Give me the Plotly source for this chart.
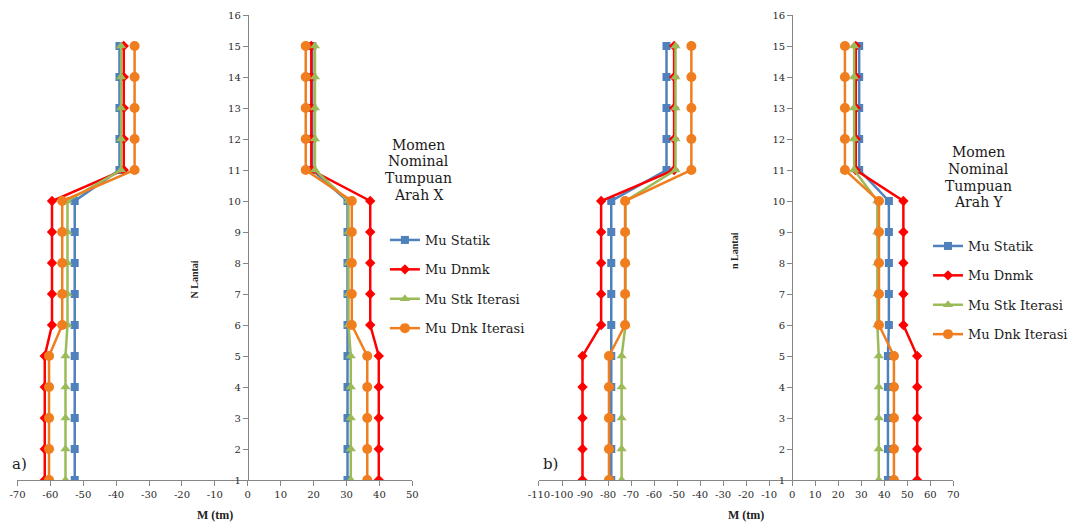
import plotly.graph_objects as go

W, H = 1073, 526

floors = [1, 2, 3, 4, 5, 6, 7, 8, 9, 10, 11, 12, 13, 14, 15]
series_names = ["Mu Statik", "Mu Dnmk", "Mu Stk Iterasi", "Mu Dnk Iterasi"]

# ---- Chart a) Arah X (negative side / positive side), floors 1..15
a_statik_neg = [-52.6, -52.6, -52.6, -52.6, -52.6, -52.6, -52.6, -52.6, -52.6, -52.6, -39.0, -39.0, -39.0, -39.0, -39.0]
a_dnmk_neg   = [-61.7, -61.7, -61.7, -61.7, -61.7, -59.5, -59.5, -59.5, -59.5, -59.5, -37.7, -37.7, -37.7, -37.7, -37.7]
a_stk_neg    = [-55.4, -55.4, -55.4, -55.4, -55.4, -54.8, -54.8, -54.8, -54.8, -54.8, -38.5, -38.5, -38.5, -38.5, -38.5]
a_dnk_neg    = [-60.4, -60.4, -60.4, -60.4, -60.4, -56.4, -56.4, -56.4, -56.4, -56.4, -34.4, -34.4, -34.4, -34.4, -34.4]
a_statik_pos = [30.3, 30.3, 30.3, 30.3, 30.3, 30.3, 30.3, 30.3, 30.3, 30.3, 19.6, 19.6, 19.6, 19.6, 19.6]
a_dnmk_pos   = [39.8, 39.8, 39.8, 39.8, 39.8, 37.2, 37.2, 37.2, 37.2, 37.2, 19.3, 19.3, 19.3, 19.3, 19.3]
a_stk_pos    = [31.3, 31.3, 31.3, 31.3, 31.3, 30.6, 30.6, 30.6, 30.6, 30.6, 20.4, 20.4, 20.4, 20.4, 20.4]
a_dnk_pos    = [36.3, 36.3, 36.3, 36.3, 36.3, 31.6, 31.6, 31.6, 31.6, 31.6, 17.6, 17.6, 17.6, 17.6, 17.6]

# ---- Chart b) Arah Y
b_statik_neg = [-78.6, -78.6, -78.6, -78.6, -78.6, -78.6, -78.6, -78.6, -78.6, -78.6, -54.6, -54.6, -54.6, -54.6, -54.6]
b_dnmk_neg   = [-91.1, -91.1, -91.1, -91.1, -91.1, -83.0, -83.0, -83.0, -83.0, -83.0, -51.3, -51.3, -51.3, -51.3, -51.3]
b_stk_neg    = [-74.1, -74.1, -74.1, -74.1, -74.1, -72.4, -72.4, -72.4, -72.4, -72.4, -50.7, -50.7, -50.7, -50.7, -50.7]
b_dnk_neg    = [-79.6, -79.6, -79.6, -79.6, -79.6, -72.6, -72.6, -72.6, -72.6, -72.6, -43.8, -43.8, -43.8, -43.8, -43.8]
b_statik_pos = [41.6, 41.6, 41.6, 41.6, 41.6, 42.0, 42.0, 42.0, 42.0, 42.0, 29.1, 29.1, 29.1, 29.1, 29.1]
b_dnmk_pos   = [54.3, 54.3, 54.3, 54.3, 54.3, 48.3, 48.3, 48.3, 48.3, 48.3, 27.6, 27.6, 27.6, 27.6, 27.6]
b_stk_pos    = [37.6, 37.6, 37.6, 37.6, 37.6, 37.0, 37.0, 37.0, 37.0, 37.0, 26.9, 26.9, 26.9, 26.9, 26.9]
b_dnk_pos    = [44.2, 44.2, 44.2, 44.2, 44.2, 37.7, 37.7, 37.7, 37.7, 37.7, 22.9, 22.9, 22.9, 22.9, 22.9]

a_neg = [a_statik_neg, a_dnmk_neg, a_stk_neg, a_dnk_neg]
a_pos = [a_statik_pos, a_dnmk_pos, a_stk_pos, a_dnk_pos]
b_neg = [b_statik_neg, b_dnmk_neg, b_stk_neg, b_dnk_neg]
b_pos = [b_statik_pos, b_dnmk_pos, b_stk_pos, b_dnk_pos]

a_xticks = [-70, -60, -50, -40, -30, -20, -10, 0, 10, 20, 30, 40, 50]
b_xticks = [-110, -100, -90, -80, -70, -60, -50, -40, -30, -20, -10, 0, 10, 20, 30, 40, 50, 60, 70]
yticks = [1, 2, 3, 4, 5, 6, 7, 8, 9, 10, 11, 12, 13, 14, 15, 16]

colors = ["#4F81BD", "#FF0000", "#9BBB59", "#F07E1E"]
symbols = ["square", "diamond", "triangle-up", "circle"]
msizes = [8, 8, 9, 10]


def px(x):
    return x / W


def py(y):
    return 1 - y / H


# plot areas (pixels)
A_L, A_R = 17.5, 413.5
B_L, B_R = 540.5, 956.0
Y_TOP, Y_BOT = 15.0, 480.0

fig = go.Figure()

for i in range(4):
    fig.add_trace(go.Scatter(
        x=a_neg[i] + [None] + a_pos[i], y=floors + [None] + floors,
        mode="lines+markers", name=series_names[i],
        line=dict(color=colors[i], width=2.5),
        marker=dict(symbol=symbols[i], size=msizes[i], color=colors[i]),
        xaxis="x", yaxis="y", legend="legend", legendgroup="a%d" % i,
        connectgaps=False,
    ))
for i in range(4):
    fig.add_trace(go.Scatter(
        x=b_neg[i] + [None] + b_pos[i], y=floors + [None] + floors,
        mode="lines+markers", name=series_names[i],
        line=dict(color=colors[i], width=2.5),
        marker=dict(symbol=symbols[i], size=msizes[i], color=colors[i]),
        xaxis="x2", yaxis="y2", legend="legend2", legendgroup="b%d" % i,
        connectgaps=False,
    ))

tickfont = dict(family="DejaVu Serif", size=10, color="#2a2a2a")
axcommon = dict(showline=True, linecolor="#868686", linewidth=1, ticks="outside",
                ticklen=5, tickcolor="#868686", showgrid=False, zeroline=False,
                tickfont=tickfont, tickangle=0, fixedrange=True, automargin=False)

a_dom = [px(A_L), px(A_R)]
b_dom = [px(B_L), px(B_R)]
y_dom = [py(Y_BOT), py(Y_TOP)]

a_zero = a_dom[0] + (0 - a_xticks[0]) / (a_xticks[-1] - a_xticks[0]) * (a_dom[1] - a_dom[0])
b_zero = b_dom[0] + (0 - b_xticks[0]) / (b_xticks[-1] - b_xticks[0]) * (b_dom[1] - b_dom[0])

a_xtext = [str(v) for v in a_xticks]
b_xtext = [str(v) for v in b_xticks]

fig.update_layout(
    width=W, height=H, autosize=False,
    margin=dict(l=0, r=0, t=0, b=0, pad=0),
    paper_bgcolor="white", plot_bgcolor="rgba(0,0,0,0)",
    xaxis=dict(domain=a_dom, range=[a_xticks[0], a_xticks[-1]], tickvals=a_xticks,
               ticktext=a_xtext, anchor="y", **axcommon),
    yaxis=dict(domain=y_dom, range=[1, 16], tickvals=yticks, anchor="free",
               position=a_zero, side="left", **axcommon),
    xaxis2=dict(domain=b_dom, range=[b_xticks[0], b_xticks[-1]], tickvals=b_xticks,
                ticktext=b_xtext, anchor="y2", **axcommon),
    yaxis2=dict(domain=y_dom, range=[1, 16], tickvals=yticks, anchor="free",
                position=b_zero, side="left", **axcommon),
    legend=dict(x=px(386), y=py(225), xanchor="left", yanchor="top",
                font=dict(family="DejaVu Serif", size=13, color="#222222"),
                tracegroupgap=9.5, bgcolor="rgba(0,0,0,0)", itemwidth=30),
    legend2=dict(x=px(931), y=py(231), xanchor="left", yanchor="top",
                 font=dict(family="DejaVu Serif", size=13, color="#222222"),
                 tracegroupgap=9.5, bgcolor="rgba(0,0,0,0)", itemwidth=30),
    showlegend=True,
)

ann = []
title_font = dict(family="DejaVu Serif", size=14, color="#1a1a1a")
for txt, yy in zip(["Momen", "Nominal", "Tumpuan", "Arah X"], [145, 161.5, 178, 194.5]):
    ann.append(dict(text=txt, x=px(420), y=py(yy), xref="paper", yref="paper",
                    showarrow=False, font=title_font, xanchor="center", yanchor="middle"))
for txt, yy in zip(["Momen", "Nominal", "Tumpuan", "Arah Y"], [152.5, 169, 185.5, 202]):
    ann.append(dict(text=txt, x=px(981.7), y=py(yy), xref="paper", yref="paper",
                    showarrow=False, font=title_font, xanchor="center", yanchor="middle"))

lab_font = dict(family="Liberation Serif", size=12, color="#222222")
ann.append(dict(text="<b>M (tm)</b>", x=px((A_L + A_R) / 2), y=py(515), xref="paper", yref="paper",
                showarrow=False, font=lab_font, xanchor="center", yanchor="middle"))
ann.append(dict(text="<b>M (tm)</b>", x=px((B_L + B_R) / 2), y=py(515), xref="paper", yref="paper",
                showarrow=False, font=lab_font, xanchor="center", yanchor="middle"))
ylab_font = dict(family="Liberation Serif", size=10, color="#222222")
ann.append(dict(text="<b>N Lantai</b>", x=px(195), y=py(279), xref="paper", yref="paper",
                showarrow=False, font=ylab_font, textangle=-90, xanchor="center", yanchor="middle"))
ann.append(dict(text="<b>n Lantai</b>", x=px(737), y=py(250), xref="paper", yref="paper",
                showarrow=False, font=ylab_font, textangle=-90, xanchor="center", yanchor="middle"))
ab_font = dict(family="DejaVu Serif", size=15, color="#222222")
ann.append(dict(text="a)", x=px(20), y=py(464), xref="paper", yref="paper",
                showarrow=False, font=ab_font, xanchor="center", yanchor="middle"))
ann.append(dict(text="b)", x=px(552), y=py(464), xref="paper", yref="paper",
                showarrow=False, font=ab_font, xanchor="center", yanchor="middle"))

fig.update_layout(annotations=ann)

fig.write_html(
    "out.html",
    post_script="document.body.style.margin='0';document.body.style.padding='0';"
                "document.documentElement.style.overflow='hidden';",
)
